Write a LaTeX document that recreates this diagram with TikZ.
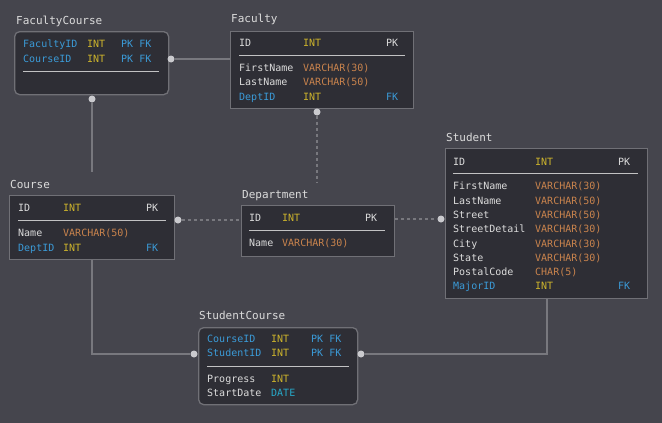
\documentclass[tikz,border=0pt]{standalone}
\usepackage{fontspec}
\setmonofont{DejaVu Sans Mono}
\definecolor{bg}{HTML}{45454D}
\definecolor{boxfill}{HTML}{2E2E35}
\definecolor{boxline}{HTML}{707076}
\definecolor{txt}{HTML}{DCDCDC}
\definecolor{keyblue}{HTML}{3B9BD8}
\definecolor{inty}{HTML}{CDB42C}
\definecolor{vchar}{HTML}{C9834D}
\definecolor{datec}{HTML}{27A9C9}
\definecolor{connc}{HTML}{78787E}
\definecolor{dotc}{HTML}{CACACE}
\tikzset{
  entity/.style = {draw=boxline, fill=boxfill, line width=1.3pt, inner sep=0pt, anchor=north west},
  ttl/.style    = {anchor=base west, inner sep=0pt, text=txt, font=\ttfamily\fontsize{11}{13}\selectfont},
  fld/.style    = {anchor=base west, inner sep=0pt, text=txt, font=\ttfamily\fontsize{10}{12}\selectfont},
  sep/.style    = {draw=txt!85!boxfill, line width=1pt},
  conn/.style   = {draw=connc, line width=1.8pt},
  dotconn/.style= {draw=connc, line width=1.8pt, dash pattern=on 3pt off 3pt},
  pin/.style    = {circle, inner sep=0pt, minimum size=7pt}
}

\begin{document}
\begin{tikzpicture}[x=1pt, y=-1pt]
    \fill[bg] (0,0) rectangle (662,423);

    % FacultyCourse
    \node[entity, rounded corners=5pt, minimum width=154pt, minimum height=63pt] (fc) at (14,31) {};
    \node[ttl] (fc-t) at (16,24) {FacultyCourse};
    \node[fld, text=keyblue] (fc-n1) at (23,47) {FacultyID};
    \node[fld, text=inty] (fc-d1) at (87,47) {INT};
    \node[fld, text=keyblue] (fc-k1) at (121,47) {PK FK};
    \node[fld, text=keyblue] (fc-n2) at (23,62) {CourseID};
    \node[fld, text=inty] (fc-d2) at (87,62) {INT};
    \node[fld, text=keyblue] (fc-k2) at (121,62) {PK FK};
    \draw[sep] (23,71) -- (159,71);

    % Faculty
    \node[entity, minimum width=183pt, minimum height=77pt] (fac) at (230,31) {};
    \node[ttl] (fac-t) at (231,23) {Faculty};
    \node[fld] (fac-n0) at (239,46) {ID};
    \node[fld, text=inty] (fac-d0) at (303,46) {INT};
    \node[fld] (fac-k0) at (386,46) {PK};
    \draw[sep] (239,55) -- (405,55);
    \node[fld] (fac-n1) at (239,71) {FirstName};
    \node[fld, text=vchar] (fac-d1) at (303,71) {VARCHAR(30)};
    \node[fld] (fac-n2) at (239,85) {LastName};
    \node[fld, text=vchar] (fac-d2) at (303,85) {VARCHAR(50)};
    \node[fld, text=keyblue] (fac-n3) at (239,100) {DeptID};
    \node[fld, text=inty] (fac-d3) at (303,100) {INT};
    \node[fld, text=keyblue] (fac-k3) at (386,100) {FK};

    % Course
    \node[entity, minimum width=165pt, minimum height=64pt] (crs) at (9,195) {};
    \node[ttl] (crs-t) at (10,188) {Course};
    \node[fld] (crs-n0) at (18,211) {ID};
    \node[fld, text=inty] (crs-d0) at (63,211) {INT};
    \node[fld] (crs-k0) at (146,211) {PK};
    \draw[sep] (18,220) -- (166,220);
    \node[fld] (crs-n1) at (18,236) {Name};
    \node[fld, text=vchar] (crs-d1) at (63,236) {VARCHAR(50)};
    \node[fld, text=keyblue] (crs-n2) at (18,251) {DeptID};
    \node[fld, text=inty] (crs-d2) at (63,251) {INT};
    \node[fld, text=keyblue] (crs-k2) at (146,251) {FK};

    % Department
    \node[entity, minimum width=153pt, minimum height=51pt] (dep) at (241,205) {};
    \node[ttl] (dep-t) at (242,198) {Department};
    \node[fld] (dep-n0) at (249,221) {ID};
    \node[fld, text=inty] (dep-d0) at (282,221) {INT};
    \node[fld] (dep-k0) at (365,221) {PK};
    \draw[sep] (249,230) -- (385,230);
    \node[fld] (dep-n1) at (249,246) {Name};
    \node[fld, text=vchar] (dep-d1) at (282,246) {VARCHAR(30)};

    % Student
    \node[entity, minimum width=202pt, minimum height=150pt] (stu) at (445,148) {};
    \node[ttl] (stu-t) at (446,141) {Student};
    \node[fld] (stu-n0) at (453,165) {ID};
    \node[fld, text=inty] (stu-d0) at (535,165) {INT};
    \node[fld] (stu-k0) at (618,165) {PK};
    \draw[sep] (453,173) -- (638,173);
    \foreach \n/\t/\y in {FirstName/VARCHAR(30)/189, LastName/VARCHAR(50)/204,
        Street/VARCHAR(50)/218, StreetDetail/VARCHAR(30)/232, City/VARCHAR(30)/247,
        State/VARCHAR(30)/261, PostalCode/CHAR(5)/275}{
      \node[fld] (stu-n\y) at (453,\y) {\n};
      \node[fld, text=vchar] (stu-d\y) at (535,\y) {\t};
    }
    \node[fld, text=keyblue] (stu-n9) at (453,289) {MajorID};
    \node[fld, text=inty] (stu-d9) at (535,289) {INT};
    \node[fld, text=keyblue] (stu-k9) at (618,289) {FK};

    % StudentCourse
    \node[entity, rounded corners=5pt, minimum width=159pt, minimum height=77pt] (sc) at (198,327) {};
    \node[ttl] (sc-t) at (199,319) {StudentCourse};
    \node[fld, text=keyblue] (sc-n1) at (207,342) {CourseID};
    \node[fld, text=inty] (sc-d1) at (271,342) {INT};
    \node[fld, text=keyblue] (sc-k1) at (311,342) {PK FK};
    \node[fld, text=keyblue] (sc-n2) at (207,356) {StudentID};
    \node[fld, text=inty] (sc-d2) at (271,356) {INT};
    \node[fld, text=keyblue] (sc-k2) at (311,356) {PK FK};
    \draw[sep] (207,366) -- (349,366);
    \node[fld] (sc-n3) at (207,382) {Progress};
    \node[fld, text=inty] (sc-d3) at (271,382) {INT};
    \node[fld] (sc-n4) at (207,396) {StartDate};
    \node[fld, text=datec] (sc-d4) at (271,396) {DATE};

    % connectors
    \coordinate (fc-end) at (92,172);
    \coordinate (fac-end) at (317,182);
    \node[pin] (fc-r) at (171,59) {};
    \node[pin] (fc-b) at (92,99) {};
    \node[pin] (fac-b) at (317,112) {};
    \node[pin] (crs-r) at (178,220) {};
    \node[pin] (stu-l) at (441,219) {};
    \node[pin] (sc-l) at (194,354) {};
    \node[pin] (sc-r) at (361,354) {};
    \draw[conn] (fc-r) -- (fc-r -| fac.west);
    \draw[conn] (fc-b) -- (fc-end);
    \draw[dotconn] (fac-b) -- (fac-end);
    \draw[dotconn] (crs-r) -- (crs-r -| dep.west);
    \draw[dotconn] (stu-l -| dep.east) -- (stu-l);
    \draw[conn] (crs.south) |- (sc-l);
    \draw[conn] (stu.south) |- (sc-r);
    \foreach \p in {fc-r, fc-b, fac-b, crs-r, stu-l, sc-l, sc-r}
      \fill[dotc] (\p) circle (3.5pt);
\end{tikzpicture}
\end{document}
